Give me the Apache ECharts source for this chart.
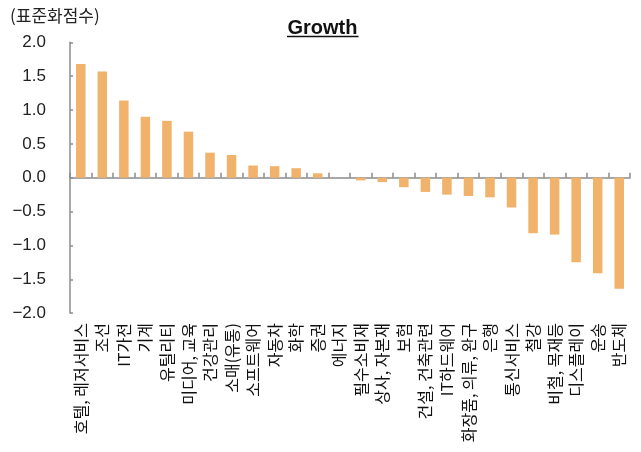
<!DOCTYPE html>
<html>
<head>
<meta charset="utf-8">
<script src="https://cdn.jsdelivr.net/npm/echarts@6/dist/echarts.min.js"></script>
<style>
  html, body { margin: 0; padding: 0; background: #fff; }
  #chart { width: 641px; height: 452px; }
</style>
</head>
<body>
<div id="chart"></div>
<script>
// Sector growth scores (standardized)
const categories = [
  '호텔, 레저서비스', '조선', 'IT가전', '기계', '유틸리티', '미디어, 교육', '건강관리',
  '소매(유통)', '소프트웨어', '자동차', '화학', '증권', '에너지', '필수소비재',
  '상사, 자본재', '보험', '건설, 건축관련', 'IT하드웨어', '화장품, 의류, 완구', '은행',
  '통신서비스', '철강', '비철, 목재등', '디스플레이', '운송', '반도체'
];
const growthScores = [
  1.68, 1.57, 1.14, 0.90, 0.84, 0.68, 0.37,
  0.335, 0.18, 0.17, 0.14, 0.065, 0.0, -0.04,
  -0.065, -0.14, -0.21, -0.25, -0.27, -0.29,
  -0.44, -0.82, -0.84, -1.25, -1.41, -1.64
];
const yTicks = { min: -2, max: 2, interval: 0.5 };

const axisGray = '#8c8c8c';
const latin = "'Liberation Sans', Arial, sans-serif";
const hangul = "'Noto Sans CJK KR', sans-serif";

const chart = echarts.init(document.getElementById('chart'), null, { renderer: 'canvas' });

chart.setOption({
  animation: false,
  backgroundColor: '#ffffff',
  title: [
    {
      text: 'Growth',
      left: 287.5,
      top: 18,
      padding: 0,
      textStyle: { fontFamily: latin, fontSize: 20, fontWeight: 'bold', color: '#111' }
    },
    {
      text: '(표준화점수)',
      left: 10,
      top: 7,
      padding: 0,
      textStyle: { fontFamily: hangul, fontSize: 17, fontWeight: 'normal', color: '#222' }
    }
  ],
  graphic: [
    {
      type: 'line',
      shape: { x1: 287, y1: 36.5, x2: 358.5, y2: 36.5 },
      style: { stroke: '#111', lineWidth: 1.6 }
    }
  ],
  grid: { left: 70, top: 42.3, width: 560, height: 270.8 },
  xAxis: [
    {
      type: 'category',
      data: categories,
      axisLine: { onZero: true, lineStyle: { color: axisGray, width: 1.5 } },
      axisTick: { show: true, inside: true, length: 5, interval: 0, lineStyle: { color: axisGray, width: 1.5 } },
      axisLabel: { show: false }
    },
    {
      type: 'category',
      data: categories,
      position: 'bottom',
      axisLine: { show: false, onZero: false },
      axisTick: { show: false },
      axisLabel: {
        interval: 0,
        rotate: 90,
        margin: 10,
        fontFamily: hangul,
        fontSize: 16,
        color: '#111'
      }
    }
  ],
  yAxis: {
    type: 'value',
    min: yTicks.min,
    max: yTicks.max,
    interval: yTicks.interval,
    splitLine: { show: false },
    axisLine: { show: true, lineStyle: { color: axisGray, width: 1.5 } },
    axisTick: { show: true, inside: true, length: 3, lineStyle: { color: axisGray, width: 1.5 } },
    axisLabel: {
      margin: 24,
      fontFamily: latin,
      fontSize: 17,
      color: '#222',
      formatter: v => v.toFixed(1).replace('-', '\u2212')
    }
  },
  series: [
    {
      type: 'bar',
      xAxisIndex: 0,
      data: growthScores,
      barWidth: 9.5,
      itemStyle: { color: '#F1B26B' }
    }
  ]
});
</script>
</body>
</html>
